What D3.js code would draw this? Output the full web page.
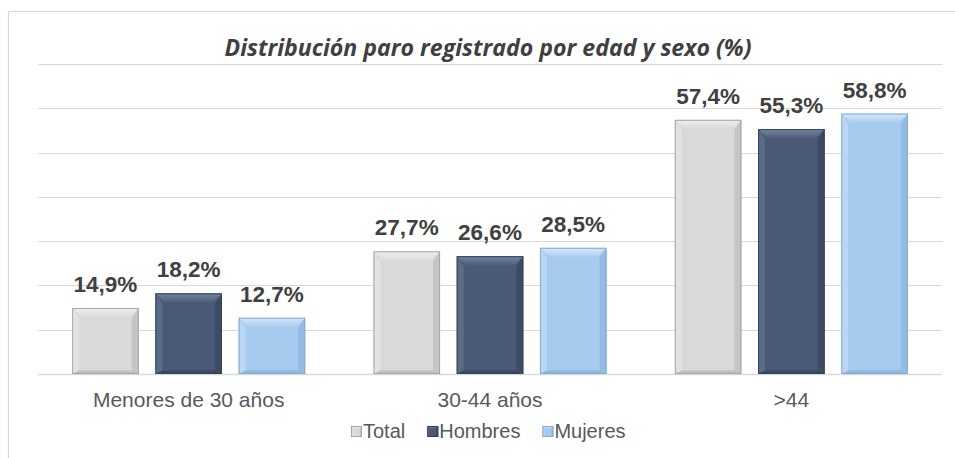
<!DOCTYPE html>
<html>
<head>
<meta charset="utf-8">
<script src="https://cdn.jsdelivr.net/npm/d3@7"></script>
<style>
  html, body { margin: 0; padding: 0; background: #fff; }
  svg { display: block; }
</style>
</head>
<body>
<div id="chart"></div>
<script>
// data
const categories = ["Menores de 30 años", "30-44 años", ">44"]
const seriesNames = ["Total", "Hombres", "Mujeres"]
const total = [14.9, 27.7, 57.4]
const hombres = [18.2, 26.6, 55.3]
const mujeres = [12.7, 28.5, 58.8]
const yTicks = [0, 10, 20, 30, 40, 50, 60, 70]
const title = "Distribución paro registrado por edad y sexo (%)"

const width = 955
const height = 458
const marginLeft = 38
const marginRight = 13      // plot ends at 942
const yTop = 64
const yBottom = 374
const bevel = 10

const colors = {
    Total:   { face: "#d9d9d9", light: "#efefef", dark: "#b8b8b8", line: "#a6a6a6" },
    Hombres: { face: "#4a5a76", light: "#7586a2", dark: "#36435a", line: "#34405a" },
    Mujeres: { face: "#a6cbef", light: "#d6e9fb", dark: "#89b0d8", line: "#86abd2" }
}

const values = { Total: total, Hombres: hombres, Mujeres: mujeres }
const rows = []
categories.forEach((c, i) => {
    seriesNames.forEach(s => rows.push({ cat: c, key: s, value: values[s][i] }))
})

const fmt = v => d3.format(".1f")(v).replace(".", ",") + "%"

const svg = d3.select("#chart").append("svg")
    .attr("width", width)
    .attr("height", height)
    .attr("viewBox", [0, 0, width, height])

// chart frame (right and bottom edges fall outside the window)
svg.append("rect")
    .attr("x", 8.5).attr("y", 11.5)
    .attr("width", width + 20).attr("height", height + 20)
    .attr("fill", "#fff")
    .attr("stroke", "#d9d9d9")
    .attr("stroke-width", 1.2)

const x0 = d3.scaleBand(categories, [marginLeft, width - marginRight])
const x1 = d3.scaleBand(seriesNames, [0, x0.bandwidth()])
    .paddingInner(0.2)
    .paddingOuter(0.41)
const y = d3.scaleLinear([0, 70], [yBottom, yTop])

// gridlines
svg.append("g")
    .selectAll("line")
    .data(yTicks)
    .join("line")
    .attr("x1", marginLeft)
    .attr("x2", width - marginRight)
    .attr("y1", d => Math.round(y(d)) + 0.5)
    .attr("y2", d => Math.round(y(d)) + 0.5)
    .attr("stroke", "#d9d9d9")
    .attr("stroke-width", d => d === 0 ? 1.6 : 1.2)

// title
svg.append("text")
    .attr("x", 488)
    .attr("y", 56)
    .attr("text-anchor", "middle")
    .attr("fill", "#404040")
    .attr("font-family", "'Open Sans', 'Noto Sans', sans-serif")
    .attr("font-style", "italic")
    .attr("font-weight", 700)
    .attr("font-size", 23.5)
    .attr("textLength", 527)
    .attr("lengthAdjust", "spacingAndGlyphs")
    .text(title)

// soft bevel: one gradient per colour for the top edge
const defs = svg.append("defs")
Object.entries(colors).forEach(([k, c]) => {
    const gr = defs.append("linearGradient")
        .attr("id", "top-" + k)
        .attr("x1", 0).attr("y1", 0).attr("x2", 0).attr("y2", 1)
    gr.append("stop").attr("offset", 0).attr("stop-color", c.light)
    gr.append("stop").attr("offset", 1).attr("stop-color", c.face)
})

function bevelBox(g, bx, by, bw, bh, key, b) {
    const c = colors[key]
    const p = pts => pts.map(q => q.join(",")).join(" ")
    const bb = Math.min(b * 0.35, bh / 3)
    g.append("rect")
        .attr("x", bx).attr("y", by).attr("width", bw).attr("height", bh)
        .attr("fill", c.face)
    // top
    g.append("polygon")
        .attr("points", p([[bx, by], [bx + bw, by], [bx + bw - b, by + b], [bx + b, by + b]]))
        .attr("fill", `url(#top-${key})`)
    // left
    g.append("polygon")
        .attr("points", p([[bx, by], [bx + b * 0.7, by + b], [bx + b * 0.7, by + bh - bb], [bx, by + bh]]))
        .attr("fill", c.light).attr("opacity", 0.4)
    // right
    g.append("polygon")
        .attr("points", p([[bx + bw, by], [bx + bw - b * 0.7, by + b], [bx + bw - b * 0.7, by + bh - bb], [bx + bw, by + bh]]))
        .attr("fill", c.dark).attr("opacity", 0.6)
    // bottom
    g.append("polygon")
        .attr("points", p([[bx, by + bh], [bx + b * 0.7, by + bh - bb], [bx + bw - b * 0.7, by + bh - bb], [bx + bw, by + bh]]))
        .attr("fill", c.dark).attr("opacity", 0.8)
    g.append("rect")
        .attr("x", bx + 0.5).attr("y", by + 0.5).attr("width", bw - 1).attr("height", bh - 1)
        .attr("fill", "none")
        .attr("stroke", c.line)
        .attr("stroke-width", 1)
}

const bars = svg.append("g")
rows.forEach(d => {
    const bx = x0(d.cat) + x1(d.key)
    const by = y(d.value)
    const bh = y(0) - y(d.value)
    bevelBox(bars.append("g"), bx, by, x1.bandwidth(), bh, d.key, bevel)
})

// value labels
svg.append("g")
    .selectAll("text")
    .data(rows)
    .join("text")
    .attr("x", d => x0(d.cat) + x1(d.key) + x1.bandwidth() / 2)
    .attr("y", d => y(d.value) - 16)
    .attr("text-anchor", "middle")
    .attr("fill", "#404040")
    .attr("font-family", "'Liberation Sans', Arial, sans-serif")
    .attr("font-weight", 700)
    .attr("font-size", 22.5)
    .text(d => fmt(d.value))

// category axis labels
svg.append("g")
    .selectAll("text")
    .data(categories)
    .join("text")
    .attr("x", d => x0(d) + x0.bandwidth() / 2)
    .attr("y", 407)
    .attr("text-anchor", "middle")
    .attr("fill", "#595959")
    .attr("font-family", "'Liberation Sans', Arial, sans-serif")
    .attr("font-size", 21)
    .text(d => d)

// legend
const legend = svg.append("g").attr("font-family", "'Liberation Sans', Arial, sans-serif")
    .attr("font-size", 20)
let lx = 351
seriesNames.forEach(s => {
    const g = legend.append("g")
    bevelBox(g, lx, 426, 11, 11, s, 3)
    const tx = g.append("text")
        .attr("x", lx + 12)
        .attr("y", 438)
        .attr("fill", "#595959")
        .text(s)
    lx += 12 + tx.node().getComputedTextLength() + 22
})
</script>
</body>
</html>
